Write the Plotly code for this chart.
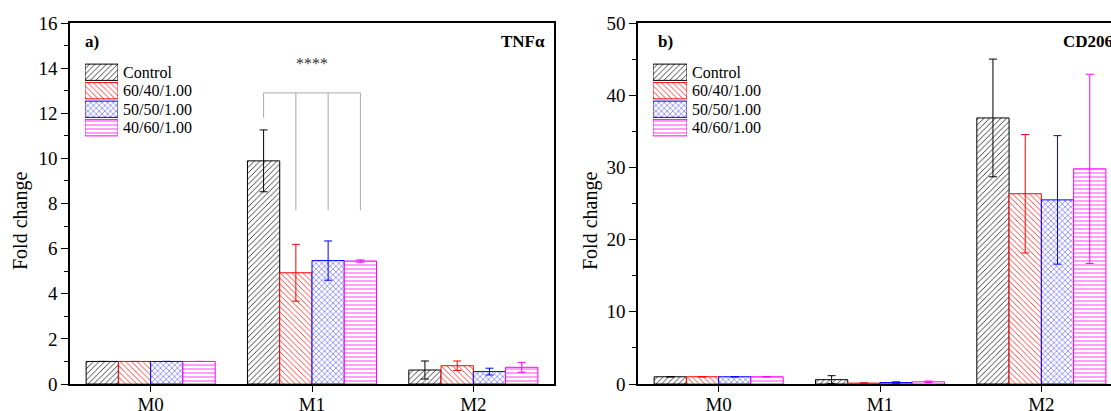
import plotly.graph_objects as go

# ---------------- data ----------------
categories = ["M0", "M1", "M2"]
series_names = ["Control", "60/40/1.00", "50/50/1.00", "40/60/1.00"]
series_colors = ["#000000", "#FF0000", "#0000FF", "#FF00FF"]
series_patterns = ["/", "\\", "x", "-"]

# TNFα fold change
tnf_values = [
    [1.0, 9.89, 0.62],   # Control
    [1.0, 4.93, 0.81],   # 60/40/1.00
    [1.0, 5.47, 0.55],   # 50/50/1.00
    [1.0, 5.45, 0.74],   # 40/60/1.00
]
tnf_errors = [
    [0.0, 1.37, 0.40],
    [0.0, 1.26, 0.21],
    [0.0, 0.87, 0.15],
    [0.0, 0.05, 0.22],
]

# CD206 fold change
cd_values = [
    [1.0, 0.60, 36.85],
    [1.0, 0.12, 26.35],
    [1.0, 0.20, 25.50],
    [1.0, 0.30, 29.80],
]
cd_errors = [
    [0.0, 0.55, 8.15],
    [0.0, 0.05, 8.20],
    [0.0, 0.10, 8.90],
    [0.0, 0.10, 13.10],
]

# significance bracket on TNFα M1 group
bracket_x = [0.7, 0.7, 1.3, 1.3, None, 0.9, 0.9, None, 1.1, 1.1]
bracket_y = [11.8, 12.9, 12.9, 7.7, None, 12.9, 7.7, None, 12.9, 7.7]
sig_label = "****"
sig_x = 1.0
sig_y = 14.2

FONT = "Liberation Serif, Times New Roman, serif"
W, H = 1111, 411

fig = go.Figure()

def pattern(shapes, colors):
    return dict(shape=shapes, fgcolor=colors, bgcolor="white", size=4,
                solidity=0.22, fgopacity=0.85, fillmode="replace")

def add_panel(values, errors, xa, ya):
    for i, name in enumerate(series_names):
        fig.add_trace(go.Bar(
            x=list(range(len(categories))),
            y=values[i],
            name=name,
            xaxis=xa, yaxis=ya,
            marker=dict(color="white",
                        line=dict(color=series_colors[i], width=1),
                        pattern=pattern(series_patterns[i], series_colors[i])),
            error_y=dict(type="data", array=errors[i], visible=True,
                         color=series_colors[i], thickness=1, width=4),
            showlegend=False,
            offsetgroup=str(i),
        ))

add_panel(tnf_values, tnf_errors, "x", "y")
add_panel(cd_values, cd_errors, "x2", "y2")

# bracket
fig.add_trace(go.Scatter(x=bracket_x, y=bracket_y, mode="lines",
                         line=dict(color="#A8A8A8", width=1),
                         xaxis="x", yaxis="y", showlegend=False,
                         hoverinfo="skip"))

# legend swatches drawn as horizontal bars on small overlay axes
legend_pos = list(range(len(series_names)))
for xa, ya in (("x3", "y3"), ("x4", "y4")):
    fig.add_trace(go.Bar(
        x=[1] * len(series_names), y=legend_pos, orientation="h",
        xaxis=xa, yaxis=ya, width=0.88, showlegend=False, hoverinfo="skip",
        marker=dict(color="white",
                    line=dict(color=series_colors, width=1),
                    pattern=pattern(series_patterns, series_colors)),
    ))

ydom = [1 - 384 / H, 1 - 23 / H]
axis_common = dict(showline=True, linecolor="black", linewidth=1.5,
                   showgrid=False, zeroline=False, automargin=False,
                   tickfont=dict(family=FONT, size=19, color="black"),
                   ticks="outside", tickcolor="black", tickwidth=1)
legend_axis = dict(domain=[1 - 137 / H, 1 - 63 / H], range=[3.5, -0.5],
                   side="right", tickvals=legend_pos, ticktext=series_names,
                   ticks="", showline=False, showgrid=False, zeroline=False,
                   ticklabelstandoff=4, automargin=False,
                   tickfont=dict(family=FONT, size=16, color="black"))

fig.update_layout(
    width=W, height=H, autosize=False,
    margin=dict(l=0, r=0, t=0, b=0, pad=0, autoexpand=False),
    paper_bgcolor="white", plot_bgcolor="white",
    barmode="group", bargap=0.2, bargroupgap=0,
    font=dict(family=FONT, color="black"),
    xaxis=dict(domain=[70 / W, 554 / W], range=[-0.5, 2.5], anchor="y",
               tickvals=[0, 1, 2], ticktext=categories, ticklen=6,
               ticklabelstandoff=-4, mirror=True, **axis_common),
    yaxis=dict(domain=ydom, range=[0, 16], anchor="x", dtick=2, ticklen=7,
               mirror=True,
               minor=dict(dtick=1, ticks="outside", ticklen=4, tickcolor="black"),
               **axis_common),
    xaxis2=dict(domain=[638 / W, 1.0], range=[-0.5, 2.5 - 11 / 161], anchor="y2",
                tickvals=[0, 1, 2], ticktext=categories, ticklen=6,
                ticklabelstandoff=-4, mirror=True, **axis_common),
    yaxis2=dict(domain=ydom, range=[0, 50], anchor="x2", dtick=10, ticklen=7,
                mirror=False,
                minor=dict(dtick=5, ticks="outside", ticklen=4, tickcolor="black"),
                **axis_common),
    xaxis3=dict(domain=[85 / W, 118 / W], range=[0, 1], anchor="y3",
                visible=False, automargin=False),
    yaxis3=dict(anchor="x3", **legend_axis),
    xaxis4=dict(domain=[653 / W, 687 / W], range=[0, 1], anchor="y4",
                visible=False, automargin=False),
    yaxis4=dict(anchor="x4", **legend_axis),
)

bold = dict(family=FONT, size=17, color="black", weight="bold")
ann = [
    dict(text="a)", x=83 / W, y=1 - 42 / H, xanchor="left", font=bold),
    dict(text="TNFα", x=547 / W, y=1 - 42 / H, xanchor="right", font=bold),
    dict(text="b)", x=656 / W, y=1 - 42 / H, xanchor="left", font=bold),
    dict(text="CD206", x=1115 / W, y=1 - 42 / H, xanchor="right", font=bold),
    dict(text="Fold change", x=20 / W, y=1 - 221 / H, textangle=-90,
         xanchor="center", font=dict(family=FONT, size=20, color="black")),
    dict(text="Fold change", x=590 / W, y=1 - 221 / H, textangle=-90,
         xanchor="center", font=dict(family=FONT, size=20, color="black")),
]
for a in ann:
    fig.add_annotation(xref="paper", yref="paper", yanchor="middle",
                       showarrow=False, **a)

fig.add_annotation(x=sig_x, y=sig_y, xref="x", yref="y", text=sig_label,
                   showarrow=False, font=dict(family=FONT, size=16, color="#333333"))

fig.write_html(
    "out.html",
    config={"displayModeBar": False},
    post_script="document.body.style.margin='0';document.body.style.overflow='hidden';",
)
